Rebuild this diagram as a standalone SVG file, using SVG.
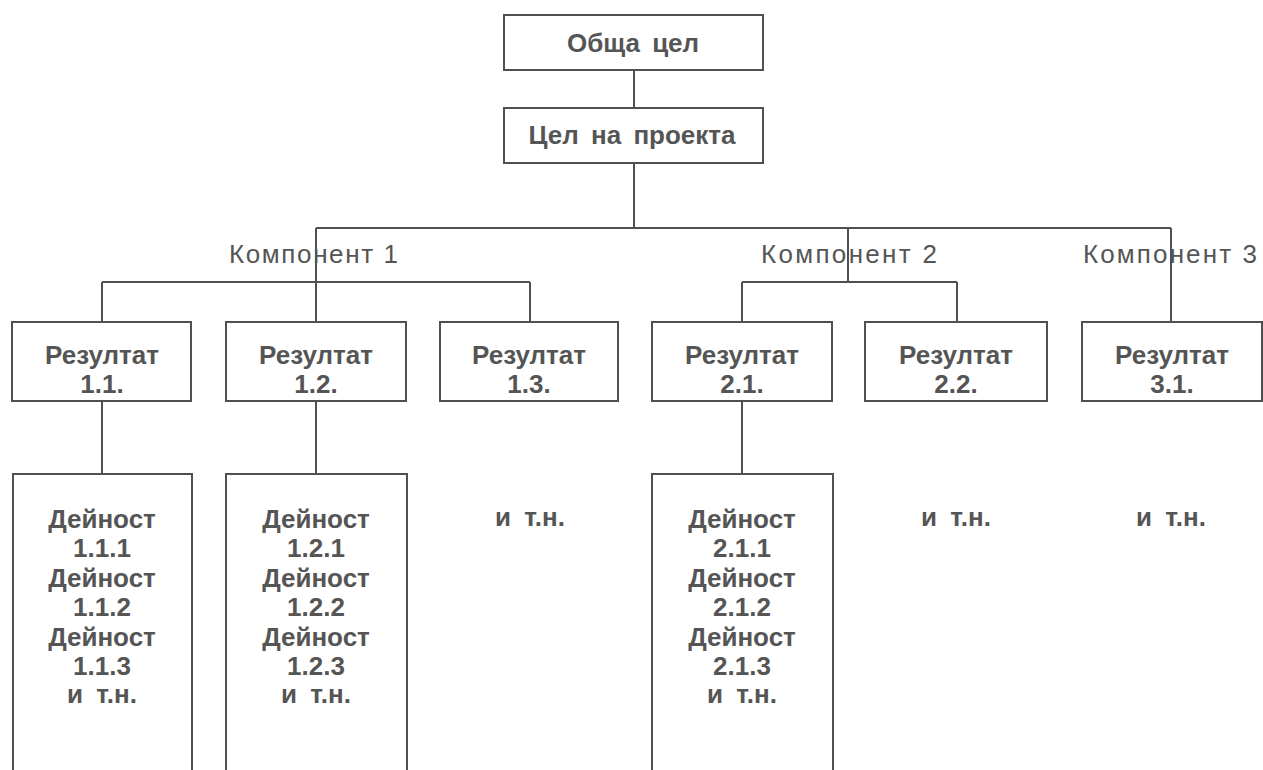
<svg xmlns="http://www.w3.org/2000/svg" width="1263" height="770" viewBox="0 0 1263 770">
<style>
.box{fill:#fff;stroke:#505050;stroke-width:2}
.ln{stroke:#505050;stroke-width:2;fill:none}
.t{font-family:"Liberation Sans",Arial,sans-serif;font-size:26px;font-weight:bold;fill:#555;text-anchor:middle}
.c{font-family:"Liberation Sans",Arial,sans-serif;font-size:26px;fill:#555}
</style>
<rect width="1263" height="770" fill="#fff"/>
<g id="connectors">
<path class="ln" d="M634 70V108M634 163V228M316 228H1171M316 228V322M848 228V282M1171 228V322M102 282H530M102 282V322M530 282V322M742 282H957M742 282V322M957 282V322M102 401V474M316 401V474M742 401V474"/>
</g>
<g id="n-obshta"><rect class="box" x="504" y="15" width="259" height="55"/><text class="t" x="633" y="52" word-spacing="5">Обща цел</text></g>
<g id="n-cel"><rect class="box" x="504" y="108" width="259" height="55"/><text class="t" x="632" y="144" word-spacing="5">Цел на проекта</text></g>
<g id="k1"><text class="c" x="229" y="263" textLength="169" lengthAdjust="spacing">Компонент  1</text></g>
<g id="k2"><text class="c" x="761" y="263" textLength="176" lengthAdjust="spacing">Компонент  2</text></g>
<g id="k3"><text class="c" x="1083" y="263" textLength="174" lengthAdjust="spacing">Компонент  3</text></g>
<g id="r11"><rect class="box" x="12" y="322" width="179" height="79"/><text class="t" x="102" y="364">Резултат</text><text class="t" x="102" y="393">1.1.</text></g>
<g id="r12"><rect class="box" x="226" y="322" width="180" height="79"/><text class="t" x="316" y="364">Резултат</text><text class="t" x="316" y="393">1.2.</text></g>
<g id="r13"><rect class="box" x="440" y="322" width="178" height="79"/><text class="t" x="529" y="364">Резултат</text><text class="t" x="529" y="393">1.3.</text></g>
<g id="r21"><rect class="box" x="652" y="322" width="180" height="79"/><text class="t" x="742" y="364">Резултат</text><text class="t" x="742" y="393">2.1.</text></g>
<g id="r22"><rect class="box" x="865" y="322" width="182" height="79"/><text class="t" x="956" y="364">Резултат</text><text class="t" x="956" y="393">2.2.</text></g>
<g id="r31"><rect class="box" x="1082" y="322" width="180" height="79"/><text class="t" x="1172" y="364">Резултат</text><text class="t" x="1172" y="393">3.1.</text></g>
<g id="a11"><rect class="box" x="13" y="474" width="179" height="310"/>
<text class="t" x="102" y="528">Дейност</text><text class="t" x="102" y="557">1.1.1</text><text class="t" x="102" y="587">Дейност</text><text class="t" x="102" y="616">1.1.2</text><text class="t" x="102" y="646">Дейност</text><text class="t" x="102" y="675">1.1.3</text><text class="t" x="102" y="703" word-spacing="6">и т.н.</text></g>
<g id="a12"><rect class="box" x="226" y="474" width="181" height="310"/>
<text class="t" x="316" y="528">Дейност</text><text class="t" x="316" y="557">1.2.1</text><text class="t" x="316" y="587">Дейност</text><text class="t" x="316" y="616">1.2.2</text><text class="t" x="316" y="646">Дейност</text><text class="t" x="316" y="675">1.2.3</text><text class="t" x="316" y="703" word-spacing="6">и т.н.</text></g>
<g id="a21"><rect class="box" x="652" y="474" width="181" height="310"/>
<text class="t" x="742" y="528">Дейност</text><text class="t" x="742" y="557">2.1.1</text><text class="t" x="742" y="587">Дейност</text><text class="t" x="742" y="616">2.1.2</text><text class="t" x="742" y="646">Дейност</text><text class="t" x="742" y="675">2.1.3</text><text class="t" x="742" y="703" word-spacing="6">и т.н.</text></g>
<g id="e13"><text class="t" x="530" y="526" word-spacing="6">и т.н.</text></g>
<g id="e22"><text class="t" x="956" y="526" word-spacing="6">и т.н.</text></g>
<g id="e31"><text class="t" x="1171" y="526" word-spacing="6">и т.н.</text></g>
</svg>
